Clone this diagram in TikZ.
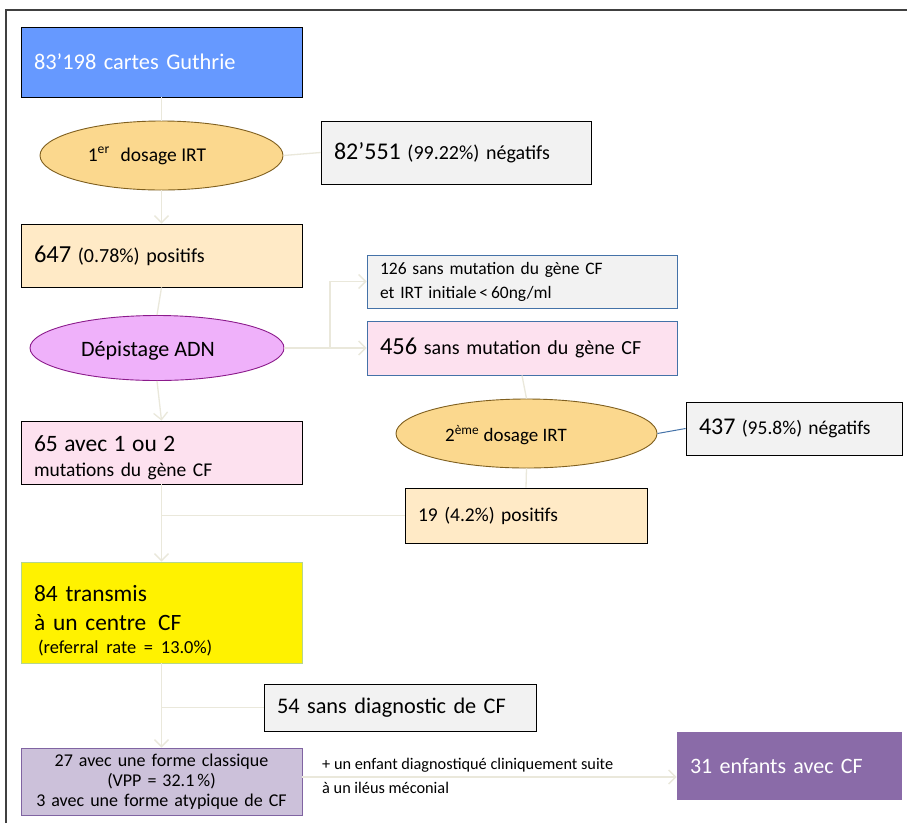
\documentclass[tikz,border=0pt]{standalone}
\usepackage{fontspec}
\setmainfont{Carlito}
\usetikzlibrary{shapes.geometric,arrows.meta}
\definecolor{cblue}{HTML}{6699FF}
\definecolor{corange}{HTML}{FBD88E}
\definecolor{corangeb}{HTML}{7F5F1F}
\definecolor{cpeach}{HTML}{FFEAC6}
\definecolor{cpink}{HTML}{FDE1EF}
\definecolor{cviolet}{HTML}{EFB1FA}
\definecolor{cvioletb}{HTML}{8B1A8B}
\definecolor{cgray}{HTML}{F2F2F2}
\definecolor{cyellowb}{HTML}{B5D58E}
\definecolor{clav}{HTML}{CCC1DA}
\definecolor{clavb}{HTML}{8064A2}
\definecolor{cpurple}{HTML}{8A6BA8}
\definecolor{cline}{HTML}{EAE8DB}
\definecolor{cbb}{HTML}{4472A8}
\definecolor{cframe}{HTML}{404040}
\newcommand{\fs}[2]{\fontsize{#1}{#2}\selectfont}
\tikzset{
  x=1pt, y=-1pt,
  box/.style={draw=black, line width=0.9pt, rectangle, inner ysep=0pt, inner xsep=12pt, align=left, anchor=center},
  bx/.code 2 args={\pgfmathsetmacro\mytw{#1-26}\tikzset{minimum width=#1pt, minimum height=#2pt, text width=\mytw pt}},
  ell/.style={ellipse, line width=0.9pt, inner sep=0pt, anchor=center},
  conn/.style={draw=cline, line width=1.3pt},
  arr/.style={conn, -{Straight Barb[length=7pt,width=14pt,line width=1.3pt]}},
}
\begin{document}
\begin{tikzpicture}
\useasboundingbox (0,0) rectangle (907,823);
\fill[white] (0,0) rectangle (907,823);
\draw[cframe, line width=1.6pt] (6,823) -- (6,10) -- (907,10);

% nodes
\node[box, fill=cblue, bx={281}{70}, text=white, font=\fs{22.4}{26}] (gut) at (161.5,62) {83’198 cartes Guthrie};
\node[ell, draw=corangeb, fill=corange, minimum width=243pt, minimum height=69pt] (e1) at (161.5,155.5) {};
\node[font=\fs{19.5}{22}] (e1t) at (147,156) {1\textsuperscript{er}\,\, dosage IRT};
\node[box, fill=cgray, bx={270}{63}, font=\fs{20}{26}] (neg1) at (456,152.5) {\fs{24}{26}82’551 \fs{20}{26}(99.22\%) négatifs};
\node[box, fill=cpeach, bx={281}{63}, font=\fs{20}{26}] (pos1) at (161.5,255.5) {\fs{24.5}{26}647 \fs{20}{26}(0.78\%) positifs};
\node[box, draw=cbb, fill=cgray, bx={310}{53}, inner xsep=13pt, font=\fs{17.5}{24}] (n126) at (522,281.5) {126 sans mutation du gène CF\\et IRT initiale\,{<}\,60ng/ml};
\node[box, draw=cbb, fill=cpink, bx={310}{54}, inner xsep=13pt, font=\fs{20}{26}] (n456) at (522,348) {\fs{24.5}{26}456 \fs{20}{26}sans mutation du gène CF};
\node[ell, draw=cvioletb, fill=cviolet, minimum width=254pt, minimum height=65pt] (dep) at (157,348) {};
\node[font=\fs{22}{26}] (dept) at (148,351) {Dépistage ADN};
\node[box, fill=cpink, bx={281}{63}, font=\fs{19.5}{25}] (n65) at (161.5,452.5) {\rule{0pt}{26pt}\fs{23.5}{25}65 avec 1 ou 2\\\fs{19.5}{25}mutations du gène CF};
\node[ell, draw=corangeb, fill=corange, minimum width=261pt, minimum height=69pt] (e2) at (526.5,433.5) {};
\node[font=\fs{19}{22}] (e2t) at (506,435) {2\textsuperscript{ème} dosage IRT};
\node[box, fill=cgray, bx={216}{53}, font=\fs{19}{26}] (n437) at (794,428.5) {\fs{24}{26}437 \fs{19.5}{26}(95.8\%) négatifs};
\node[box, fill=cpeach, bx={242}{55}, inner xsep=13pt, font=\fs{19.5}{22}] (n19) at (526,515.5) {19 (4.2\%) positifs};
\node[box, draw=cyellowb, fill=yellow, bx={281}{101}, font=\fs{23.4}{29}] (n84) at (161.5,612.5) {\rule{0pt}{32pt}84 transmis\\à un centre\, CF\\[-6pt]\hspace*{4pt}\fs{18.4}{29}(referral rate = 13.0\%)};
\node[box, fill=cgray, bx={272}{47}, inner xsep=13pt, font=\fs{22.3}{26}] (n54) at (400,707.5) {54 sans diagnostic de CF};
\node[box, draw=clavb, fill=clav, bx={281}{67}, align=center, font=\fs{18}{20}] (n27) at (161.5,781.5) {27 avec une forme classique\\(VPP = 32.1\,\%)\\3 avec une forme atypique de CF};
\node[box, draw=none, fill=cpurple, bx={225}{68}, inner xsep=13pt, text=white, font=\fs{22}{26}] (n31) at (789.5,766) {31 enfants avec CF};
\node[anchor=north west, inner sep=0pt, align=left, font=\fs{16.3}{24}] (lab) at (322,758) {+ un enfant diagnostiqué cliniquement suite\\à un iléus méconial};

% connectors
\coordinate (br) at (330,348);
\coordinate (ja) at (161.5,515.5);
\coordinate (jb) at (161.5,707.5);
\coordinate (jc) at (302,777);
\draw[conn] (gut.south) -- (e1.north);
\draw[conn] (e1.east) -- (neg1.west);
\draw[arr] (e1.south) -- (pos1.north);
\draw[conn] (pos1.south) -- (dep.north);
\draw[conn] (dep.east) -- (br);
\draw[arr] (br) |- (n126.west);
\draw[arr] (br) -- (n456.west);
\draw[arr] (dep.south) -- (n65.north);
\draw[conn] (n456.south) -- (e2.north);
\draw[draw=cbb, line width=1pt] (e2.east) -- (n437.west);
\draw[conn] (e2.south) -- (n19.north);
\draw[conn] (n19.west) -- (ja);
\draw[arr] (n65.south) -- (n84.north);
\draw[conn] (n54.west) -- (jb);
\draw[arr] (n84.south) -- (n27.north);
\draw[arr] (jc) -- (jc -| n31.west);
\end{tikzpicture}
\end{document}
